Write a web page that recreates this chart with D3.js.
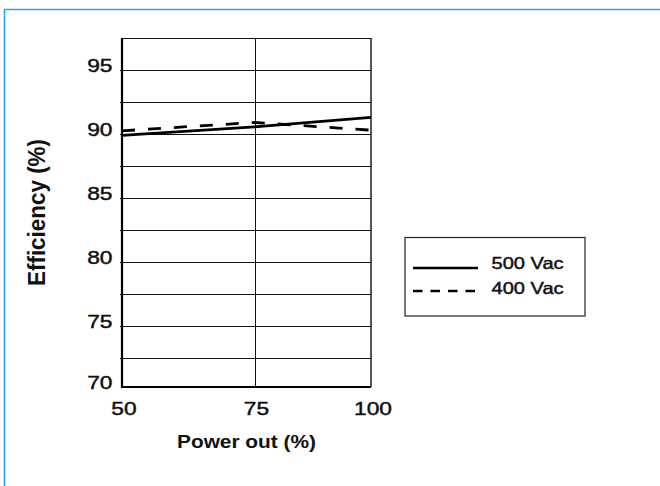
<!DOCTYPE html>
<html>
<head>
<meta charset="utf-8">
<script src="https://cdn.jsdelivr.net/npm/d3@7"></script>
<style>
  body { margin: 0; background: #fff; }
  svg { display: block; }
  text { font-family: "Liberation Sans", Arial, Helvetica, sans-serif; fill: #111; }
  .lab { stroke: #111; stroke-width: 0.45px; }
</style>
</head>
<body>
<svg id="chart" width="660" height="486"></svg>
<script>
// data
const powerOut = [50, 75, 100];
const eff500 = [89.9, 90.55, 91.3];
const eff400 = [90.25, 90.9, 90.3];
const xTickValues = [50, 75, 100];
const yTickValues = [70, 75, 80, 85, 90, 95];
const yGridValues = [72.5, 75, 77.5, 80, 82.5, 85, 87.5, 90, 92.5, 95];
const seriesNames = ["500 Vac", "400 Vac"];

// text in the reference is stretched horizontally
const SX = 1.23;
const px = v => Math.round(v) + 0.5; // keep 1px lines crisp

const svg = d3.select("#chart");

// light blue frame (top and left)
svg.append("path")
    .attr("d", "M4.5,486V9.5H660")
    .attr("fill", "none")
    .attr("stroke", "#27a5dd")
    .attr("stroke-width", 1.6);

// scales (hand drawn original: spacing not perfectly even)
const x = d3.scaleLinear().domain([50, 75, 100]).range([122, 254.5, 371]);
const y = d3.scaleLinear().domain([70, 72.5, 97.5]).range([387, 358, 38]);

const g = svg.append("g");

// horizontal grid
g.selectAll(".hgrid")
    .data(yGridValues)
    .enter().append("line")
    .attr("class", "hgrid")
    .attr("x1", x(50) - 2).attr("x2", x(100))
    .attr("y1", d => px(y(d))).attr("y2", d => px(y(d)))
    .attr("stroke", "#111")
    .attr("stroke-width", 1);

// vertical grid at 75
g.append("line")
    .attr("x1", px(x(75))).attr("x2", px(x(75)))
    .attr("y1", y(97.5)).attr("y2", y(70))
    .attr("stroke", "#111")
    .attr("stroke-width", 1);

// frame: top and right thin
g.append("line")
    .attr("x1", x(50)).attr("x2", x(100))
    .attr("y1", px(y(97.5))).attr("y2", px(y(97.5)))
    .attr("stroke", "#111").attr("stroke-width", 1);
g.append("line")
    .attr("x1", x(100)).attr("x2", x(100))
    .attr("y1", y(97.5)).attr("y2", y(70))
    .attr("stroke", "#111").attr("stroke-width", 1.4);

// left and bottom axes, thicker
g.append("line")
    .attr("x1", x(50)).attr("x2", x(50))
    .attr("y1", y(97.5)).attr("y2", y(70) + 1)
    .attr("stroke", "#000").attr("stroke-width", 2.2);
g.append("line")
    .attr("x1", x(50) - 1).attr("x2", x(100))
    .attr("y1", y(70)).attr("y2", y(70))
    .attr("stroke", "#000").attr("stroke-width", 2);

// y tick labels
g.selectAll(".ylab")
    .data(yTickValues)
    .enter().append("text")
    .attr("class", "lab")
    .attr("transform", d => `translate(112.5,${y(d) + 2}) scale(${SX},1)`)
    .attr("text-anchor", "end")
    .attr("font-size", "18.5px")
    .text(d => d);

// x tick labels
g.selectAll(".xlab")
    .data(xTickValues)
    .enter().append("text")
    .attr("class", "lab")
    .attr("transform", d => `translate(${x(d) + 2},414.5) scale(${SX},1)`)
    .attr("text-anchor", "middle")
    .attr("font-size", "18.5px")
    .text(d => d);

// axis titles
g.append("text")
    .attr("transform", `translate(${(x(50) + x(100)) / 2},447.5)`)
    .attr("text-anchor", "middle")
    .attr("font-size", "19px")
    .attr("font-weight", "bold")
    .attr("textLength", 139)
    .attr("lengthAdjust", "spacingAndGlyphs")
    .text("Power out (%)");

g.append("text")
    .attr("transform", `translate(45,${(y(70) + y(97.5)) / 2}) scale(${SX},1) rotate(-90)`)
    .attr("text-anchor", "middle")
    .attr("font-size", "19px")
    .attr("font-weight", "bold")
    .attr("textLength", 147)
    .attr("lengthAdjust", "spacingAndGlyphs")
    .text("Efficiency (%)");

// series lines
const line = d3.line()
    .x(d => x(d[0]))
    .y(d => y(d[1]));

g.append("path")
    .datum(d3.zip(powerOut, eff500))
    .attr("fill", "none")
    .attr("stroke", "#000")
    .attr("stroke-width", 2.8)
    .attr("d", line);

g.append("path")
    .datum(d3.zip(powerOut, eff400))
    .attr("fill", "none")
    .attr("stroke", "#000")
    .attr("stroke-width", 2.8)
    .attr("stroke-dasharray", "13,13")
    .attr("d", line);

// legend
const legend = svg.append("g").attr("transform", "translate(405,237.5)");
legend.append("rect")
    .attr("x", 0).attr("y", 0)
    .attr("width", 180).attr("height", 78.5)
    .attr("fill", "#fff")
    .attr("stroke", "#222")
    .attr("stroke-width", 1.2);

seriesNames.forEach((name, i) => {
    const ly = 30.5 + i * 23;
    legend.append("line")
        .attr("x1", 8).attr("x2", 73)
        .attr("y1", ly).attr("y2", ly)
        .attr("stroke", "#000")
        .attr("stroke-width", 2.6)
        .attr("stroke-dasharray", i === 1 ? "9.5,8" : null);
    legend.append("text")
        .attr("class", "lab")
        .attr("transform", `translate(86.5,${ly + 0.5 + i * 2.5}) scale(${SX},1)`)
        .attr("font-size", "16.3px")
        .text(name);
});
</script>
</body>
</html>
